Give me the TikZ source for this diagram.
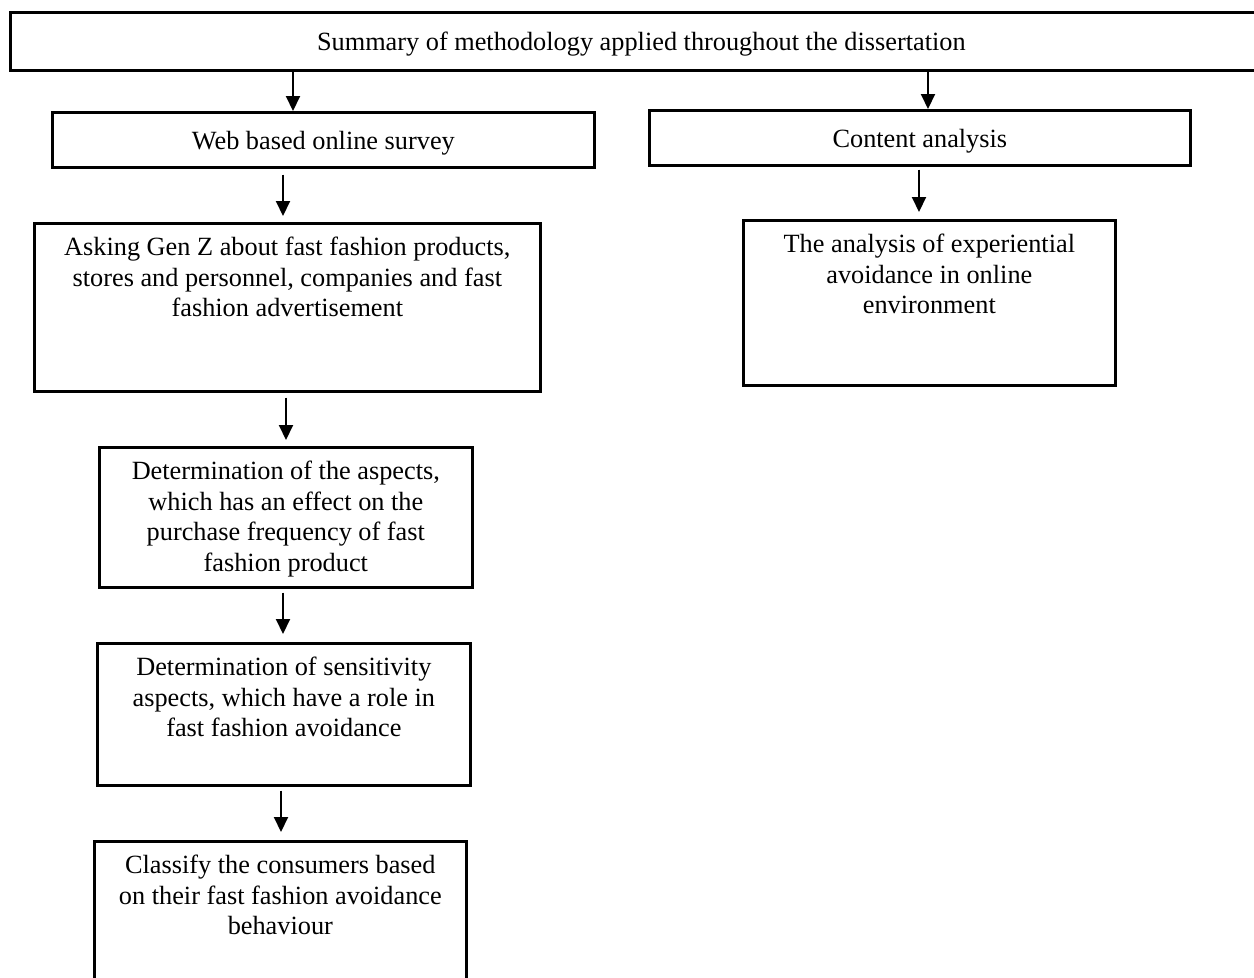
\documentclass[tikz,border=0pt]{standalone}
\usepackage{fontspec}
\setmainfont{Liberation Serif}
\usetikzlibrary{arrows.meta}
\tikzset{
  x=1pt, y=-1pt,
  box/.style={draw, line width=2.7pt, inner sep=0pt, anchor=north west, font=\fontsize{26.3}{30.5}\selectfont},
  arr/.style={line width=2pt, -{Triangle[width=14pt,length=15pt]}}
}
\newcommand{\boxtext}[3]{\parbox[c][#2pt][t]{#1pt}{\centering\vspace*{14pt}#3\par}}
\newcommand{\onetext}[3]{\parbox[c][#2pt][c]{#1pt}{\centering\vspace*{6pt}#3\par}}
\begin{document}
\begin{tikzpicture}
\useasboundingbox (0,0) rectangle (1254,978);
\clip (0,0) rectangle (1254,978);
\fill[white] (0,0) rectangle (1254,978);
\node[box] (top) at (9,11) {\onetext{1262}{58}{Summary of methodology applied throughout the dissertation}};
\node[box] (web) at (51,111) {\onetext{542}{55}{Web based online survey}};
\node[box] (content) at (648,109) {\onetext{541}{55}{Content analysis}};
\node[box] (ask) at (33,222) {\boxtext{506}{168}{Asking Gen Z about fast fashion products,\\ stores and personnel, companies and fast\\ fashion advertisement}};
\node[box] (anal) at (742,219) {\boxtext{372}{165}{The analysis of experiential\\ avoidance in online\\ environment}};
\node[box] (det1) at (98,446) {\boxtext{373}{140}{Determination of the aspects,\\ which has an effect on the\\ purchase frequency of fast\\ fashion product}};
\node[box] (det2) at (96,642) {\boxtext{373}{142}{Determination of sensitivity\\ aspects, which have a role in\\ fast fashion avoidance}};
\node[box] (cls) at (93,840) {\boxtext{372}{170}{Classify the consumers based\\ on their fast fashion avoidance\\ behaviour}};
\coordinate (a1) at (293,0);
\coordinate (a2) at (928,0);
\coordinate (a3) at (283,0);
\coordinate (a4) at (919,0);
\coordinate (a5) at (286,0);
\coordinate (a6) at (283,0);
\coordinate (a7) at (281,0);
\draw[arr] (top.south -| a1) -- (web.north -| a1);
\draw[arr] (top.south -| a2) -- (content.north -| a2);
\draw[arr, shorten <=6pt, shorten >=6pt] (web.south -| a3) -- (ask.north -| a3);
\draw[arr, shorten <=3pt, shorten >=7pt] (content.south -| a4) -- (anal.north -| a4);
\draw[arr, shorten <=5pt, shorten >=6pt] (ask.south -| a5) -- (det1.north -| a5);
\draw[arr, shorten <=4pt, shorten >=8pt] (det1.south -| a6) -- (det2.north -| a6);
\draw[arr, shorten <=4pt, shorten >=8pt] (det2.south -| a7) -- (cls.north -| a7);
\end{tikzpicture}
\end{document}
